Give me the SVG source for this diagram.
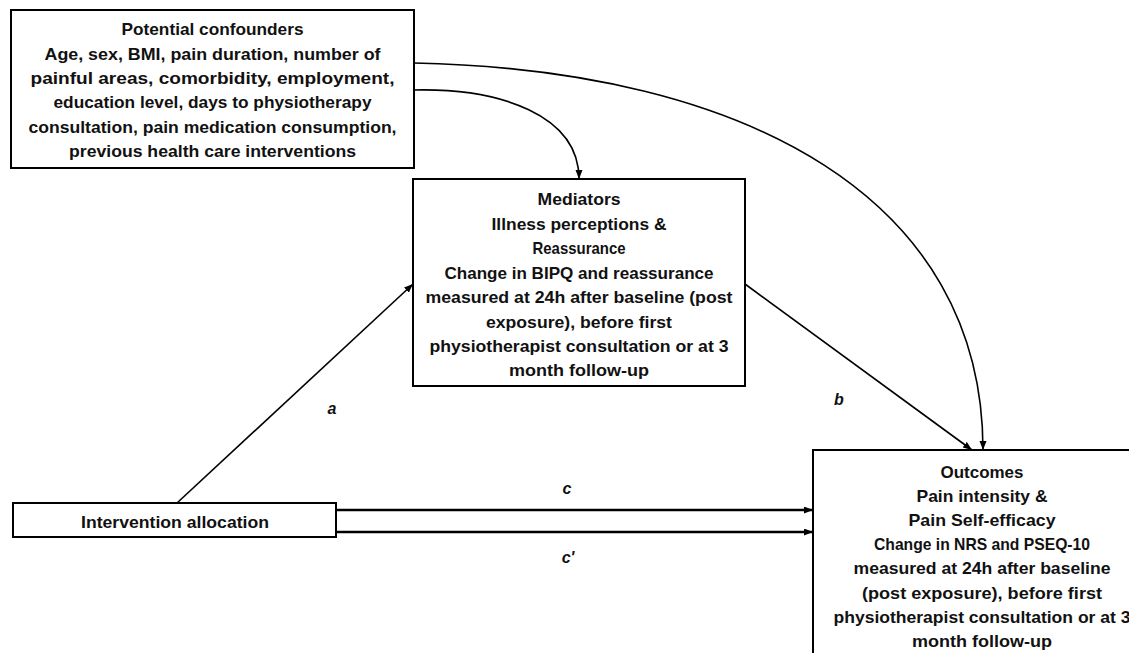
<svg xmlns="http://www.w3.org/2000/svg" width="1129" height="653" viewBox="0 0 1129 653">
  <style>
    .box { fill: #ffffff; stroke: #000000; stroke-width: 2; }
    .t { font-family: "Liberation Sans", Arial, sans-serif; font-weight: bold; font-size: 17px; fill: #111111; text-anchor: middle; }
    .lbl { font-family: "Liberation Sans", Arial, sans-serif; font-weight: bold; font-style: italic; font-size: 16px; fill: #111111; text-anchor: middle; }
    .edge { fill: none; stroke: #000000; stroke-width: 1.6; marker-end: url(#arrow); }
    .edge-thick { fill: none; stroke: #000000; stroke-width: 2.4; marker-end: url(#arrow); }
  </style>
  <defs>
    <marker id="arrow" markerUnits="userSpaceOnUse" markerWidth="10" markerHeight="8" refX="9" refY="3.5" orient="auto">
      <path d="M0,0 L9,3.5 L0,7 z" fill="#000000"/>
    </marker>
  </defs>

  <rect width="1129" height="653" fill="#ffffff"/>

  <!-- connectors -->
  <g id="connectors">
    <path class="edge" d="M414,90 C500,88 579,115 579,179"/>
    <path class="edge" d="M414,63 C750,70 983,200 983,450"/>
    <path class="edge" d="M177,503 L413,284"/>
    <path class="edge" d="M745,284 L972,450"/>
    <path class="edge-thick" d="M336,510 L813,510"/>
    <path class="edge-thick" d="M336,532 L813,532"/>
    <text class="lbl" x="332" y="414">a</text>
    <text class="lbl" x="839" y="405">b</text>
    <text class="lbl" x="567" y="494">c</text>
    <text class="lbl" x="568" y="563">c'</text>
  </g>

  <!-- potential confounders -->
  <g id="confounders">
    <rect class="box" x="11" y="10" width="403" height="158"/>
    <text class="t" x="212.5" y="35" textLength="182" lengthAdjust="spacingAndGlyphs">Potential confounders</text>
    <text class="t" x="212.5" y="60" textLength="336" lengthAdjust="spacingAndGlyphs">Age, sex, BMI, pain duration, number of</text>
    <text class="t" x="212.5" y="84" textLength="364" lengthAdjust="spacingAndGlyphs">painful areas, comorbidity, employment,</text>
    <text class="t" x="212.5" y="108" textLength="318" lengthAdjust="spacingAndGlyphs">education level, days to physiotherapy</text>
    <text class="t" x="212.5" y="132.5" textLength="368" lengthAdjust="spacingAndGlyphs">consultation, pain medication consumption,</text>
    <text class="t" x="212.5" y="157" textLength="287" lengthAdjust="spacingAndGlyphs">previous health care interventions</text>
  </g>

  <!-- mediators -->
  <g id="mediators">
    <rect class="box" x="413" y="179" width="332" height="207"/>
    <text class="t" x="579" y="205" textLength="83" lengthAdjust="spacingAndGlyphs">Mediators</text>
    <text class="t" x="579" y="229.5" textLength="175" lengthAdjust="spacingAndGlyphs">Illness perceptions &amp;</text>
    <text class="t" x="579" y="254" textLength="93" lengthAdjust="spacingAndGlyphs">Reassurance</text>
    <text class="t" x="579" y="278.5" textLength="269" lengthAdjust="spacingAndGlyphs">Change in BIPQ and reassurance</text>
    <text class="t" x="579" y="303" textLength="307" lengthAdjust="spacingAndGlyphs">measured at 24h after baseline (post</text>
    <text class="t" x="579" y="327.5" textLength="186" lengthAdjust="spacingAndGlyphs">exposure), before first</text>
    <text class="t" x="579" y="352" textLength="299" lengthAdjust="spacingAndGlyphs">physiotherapist consultation or at 3</text>
    <text class="t" x="579" y="376" textLength="140" lengthAdjust="spacingAndGlyphs">month follow-up</text>
  </g>

  <!-- intervention allocation -->
  <g id="intervention">
    <rect class="box" x="13" y="503" width="323" height="34"/>
    <text class="t" x="175" y="528" textLength="188" lengthAdjust="spacingAndGlyphs">Intervention allocation</text>
  </g>

  <!-- outcomes -->
  <g id="outcomes">
    <rect class="box" x="813" y="450" width="340" height="220"/>
    <text class="t" x="982" y="478" textLength="83" lengthAdjust="spacingAndGlyphs">Outcomes</text>
    <text class="t" x="982" y="502" textLength="131" lengthAdjust="spacingAndGlyphs">Pain intensity &amp;</text>
    <text class="t" x="982" y="526" textLength="147" lengthAdjust="spacingAndGlyphs">Pain Self-efficacy</text>
    <text class="t" x="982" y="550" textLength="216" lengthAdjust="spacingAndGlyphs">Change in NRS and PSEQ-10</text>
    <text class="t" x="982" y="574" textLength="257" lengthAdjust="spacingAndGlyphs">measured at 24h after baseline</text>
    <text class="t" x="982" y="598.5" textLength="240" lengthAdjust="spacingAndGlyphs">(post exposure), before first</text>
    <text class="t" x="982" y="622.5" textLength="297" lengthAdjust="spacingAndGlyphs">physiotherapist consultation or at 3</text>
    <text class="t" x="982" y="647" textLength="140" lengthAdjust="spacingAndGlyphs">month follow-up</text>
  </g>
</svg>
